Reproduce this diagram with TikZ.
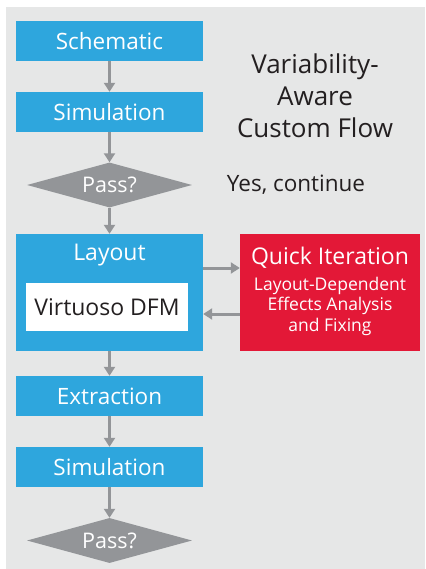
\documentclass[tikz,border=0pt]{standalone}
\usepackage{fontspec}
\setmainfont{Open Sans}
\usetikzlibrary{arrows.meta, positioning, shapes.geometric}

\definecolor{flowblue}{RGB}{46,166,221}
\definecolor{iterred}{RGB}{227,24,55}
\definecolor{panelgray}{RGB}{230,231,231}
\definecolor{arrowgray}{RGB}{147,149,152}
\definecolor{textdark}{RGB}{35,31,32}

\tikzset{
	stepbox/.style={fill=flowblue, text=white, inner sep=0pt,
		minimum width=187pt, minimum height=40pt,
		font=\fontsize{22.5}{26}\selectfont},
	decision/.style={diamond, fill=arrowgray, text=white, inner sep=0pt,
		aspect=3.67, minimum width=165pt, minimum height=45pt,
		font=\fontsize{21.5}{24}\selectfont},
	flowarrow/.style={draw=arrowgray, line width=3pt,
		-{Triangle[width=11pt,length=9pt]}},
}

\begin{document}
\begin{tikzpicture}[x=1pt, y=-1pt]
		\useasboundingbox (0,0) rectangle (425,569);
		\fill[panelgray] (6,7) rectangle (425,569);
	
		% main flow
		\node[stepbox] (schematic) at (109.5,41) {Schematic};
		\node[stepbox] (sim1) at (109.5,112) {Simulation};
		\node[decision] (pass1) at (109.5,185) {Pass?};
		\node[stepbox, minimum height=117pt] (layout) at (109.5,292.5) {};
		\node[text=white, font=\fontsize{23}{26}\selectfont] (layouttitle) at (109.5,255) {Layout};
		\node[fill=white, text=textdark, minimum width=162pt, minimum height=48pt,
			font=\fontsize{23}{26}\selectfont] (dfm) at (107,307) {Virtuoso DFM};
		\node[stepbox] (extract) at (109.5,396) {Extraction};
		\node[stepbox] (sim2) at (109.5,467) {Simulation};
		\node[decision] (pass2) at (109.5,540.5) {Pass?};
	
		% quick iteration loop
		\node[fill=iterred, minimum width=180pt, minimum height=117pt] (quick) at (330,292.5) {};
		\node[text=white, font=\fontsize{23}{26}\selectfont] (quicktitle) at (330,258) {Quick Iteration};
		\node[text=white, align=center, font=\fontsize{17.5}{20.5}\selectfont] (quicktext) at (330,306)
			{Layout-Dependent\\Effects Analysis\\and Fixing};
	
		% side labels
		\node[text=textdark, align=center, font=\fontsize{26}{32}\selectfont] (flowname) at (315,96)
			{Variability-\\Aware\\Custom Flow};
		\node[text=textdark, font=\fontsize{22.5}{26}\selectfont] (yes) at (296,185) {Yes, continue};
	
		\draw[flowarrow] (schematic) -- (sim1);
		\draw[flowarrow] (sim1) -- (pass1);
		\draw[flowarrow] (pass1) -- (layout);
		\draw[flowarrow] (layout) -- (extract);
		\draw[flowarrow] (extract) -- (sim2);
		\draw[flowarrow] (sim2) -- (pass2);
		\draw[flowarrow] ([yshift=24.5pt]layout.east) -- ([yshift=24.5pt]quick.west);
		\draw[flowarrow] ([yshift=-21.5pt]quick.west) -- ([yshift=-21.5pt]layout.east);
	\end{tikzpicture}
\end{document}
